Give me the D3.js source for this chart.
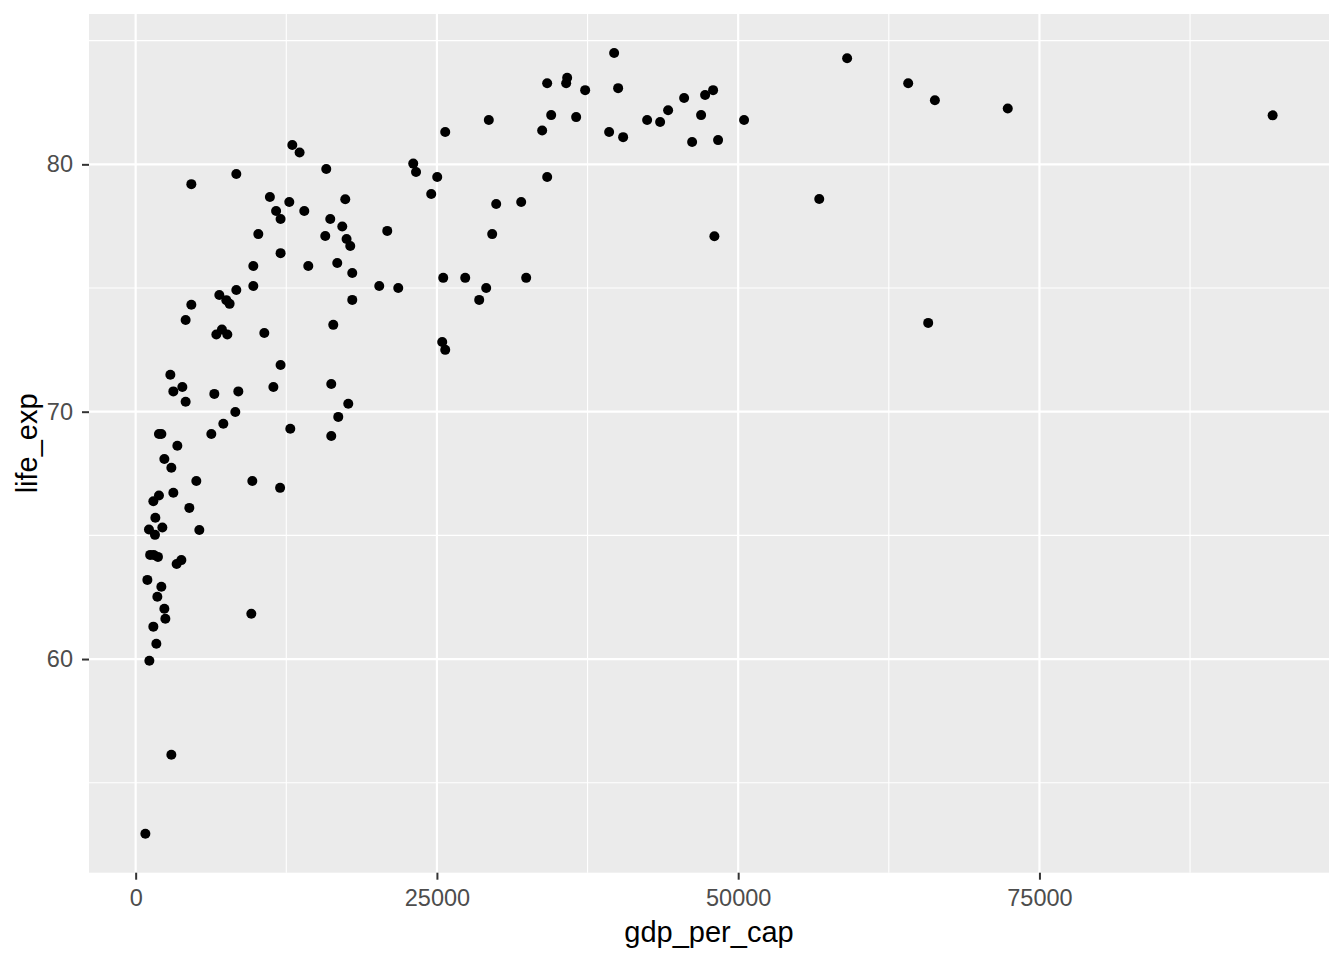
<!DOCTYPE html>
<html>
<head>
<meta charset="utf-8">
<script src="https://cdn.jsdelivr.net/npm/d3@7"></script>
<style>
  html, body { margin: 0; padding: 0; background: #ffffff; }
  svg { display: block; }
  text { font-family: "Liberation Sans", Arial, sans-serif; }
</style>
</head>
<body>
<svg id="chart" width="1344" height="960"></svg>
<script>
// ---- data ----
const gdpPerCap = [
  8353, 4620, 11140, 11654, 12027, 10178, 12027, 9763, 9763, 8353,
  6943, 7523, 7797, 4620, 4148, 7159, 6694, 7606, 10675, 12027,
  2879, 3874, 3127, 6528, 8519, 11430, 4148, 8270, 7275, 1933,
  2132, 6279, 3459, 2381, 2961, 5035, 9680, 11986, 1468, 1933,
  3127, 4454, 1634, 1103, 1601, 2215, 5284, 1203, 1493, 1850,
  3401, 3791, 971, 2132, 1800, 2381, 2464, 9597, 1468, 1717,
  1137, 2961, 805, 12998, 13603, 15818, 23034, 23267, 12749, 17394,
  13993, 16150, 17145, 20878, 15735, 17502, 17809, 14325, 16730, 17975,
  20214, 21790, 17975, 16399, 16233, 17643, 16813, 12832, 16233, 25689,
  33734, 25025, 34149, 24527, 29919, 31993, 29587, 25523, 27348, 32407,
  29089, 28509, 25440, 25689, 29305, 34149, 34481, 35808, 35725, 36555,
  37301, 39292, 39707, 40038, 40453, 42444, 43522, 44186, 45513, 46177,
  46923, 47255, 47918, 48333, 50490, 48026, 59041, 64109, 66324, 72371,
  94352, 56727, 65768
];
const lifeExp = [
  79.61, 79.20, 78.68, 78.11, 77.79, 77.18, 76.41, 75.89, 75.08, 74.92,
  74.72, 74.51, 74.36, 74.32, 73.71, 73.32, 73.12, 73.12, 73.18, 71.89,
  71.49, 71.00, 70.82, 70.72, 70.82, 71.00, 70.40, 69.99, 69.51, 69.10,
  69.10, 69.10, 68.62, 68.09, 67.73, 67.20, 67.20, 66.92, 66.38, 66.61,
  66.72, 66.11, 65.71, 65.24, 65.02, 65.32, 65.22, 64.21, 64.21, 64.13,
  63.84, 64.00, 63.20, 62.92, 62.52, 62.03, 61.63, 61.83, 61.31, 60.62,
  59.93, 56.13, 52.94, 80.78, 80.48, 79.81, 80.03, 79.69, 78.48, 78.59,
  78.11, 77.79, 77.49, 77.31, 77.10, 76.98, 76.70, 75.89, 76.01, 75.61,
  75.08, 75.00, 74.52, 73.51, 71.12, 70.32, 69.79, 69.31, 69.02, 81.31,
  81.37, 79.49, 79.49, 78.80, 78.40, 78.48, 77.18, 75.41, 75.41, 75.41,
  75.00, 74.52, 72.82, 72.50, 81.79, 83.28, 81.99, 83.50, 83.28, 81.91,
  83.00, 81.31, 84.50, 83.08, 81.10, 81.79, 81.71, 82.19, 82.68, 80.90,
  81.99, 82.80, 83.00, 80.98, 81.79, 77.09, 84.29, 83.28, 82.59, 82.26,
  81.98, 78.60, 73.59
];
const xTickValues = [0, 25000, 50000, 75000];
const xMinorValues = [12500, 37500, 62500, 87500];
const yTickValues = [60, 70, 80];
const yMinorValues = [55, 65, 75, 85];
const xTitle = "gdp_per_cap";
const yTitle = "life_exp";

// ---- layout ----
const panel = { left: 89, right: 1329, top: 14, bottom: 872.7 };
const svg = d3.select("#chart");

function expand(ext, mult) {
  const span = ext[1] - ext[0];
  return [ext[0] - span * mult, ext[1] + span * mult];
}

const x = d3.scaleLinear()
  .domain(expand(d3.extent(gdpPerCap), 0.05))
  .range([panel.left, panel.right]);
const y = d3.scaleLinear()
  .domain(expand(d3.extent(lifeExp), 0.05))
  .range([panel.bottom, panel.top]);

// panel background
svg.append("rect")
  .attr("x", panel.left).attr("y", panel.top)
  .attr("width", panel.right - panel.left)
  .attr("height", panel.bottom - panel.top)
  .attr("fill", "#EBEBEB");

const grid = svg.append("g");
grid.selectAll("line.xminor").data(xMinorValues).enter().append("line")
  .attr("x1", d => x(d)).attr("x2", d => x(d))
  .attr("y1", panel.top).attr("y2", panel.bottom)
  .attr("stroke", "#ffffff").attr("stroke-width", 1.1);
grid.selectAll("line.yminor").data(yMinorValues).enter().append("line")
  .attr("y1", d => y(d)).attr("y2", d => y(d))
  .attr("x1", panel.left).attr("x2", panel.right)
  .attr("stroke", "#ffffff").attr("stroke-width", 1.1);
grid.selectAll("line.xmajor").data(xTickValues).enter().append("line")
  .attr("x1", d => x(d)).attr("x2", d => x(d))
  .attr("y1", panel.top).attr("y2", panel.bottom)
  .attr("stroke", "#ffffff").attr("stroke-width", 2.2);
grid.selectAll("line.ymajor").data(yTickValues).enter().append("line")
  .attr("y1", d => y(d)).attr("y2", d => y(d))
  .attr("x1", panel.left).attr("x2", panel.right)
  .attr("stroke", "#ffffff").attr("stroke-width", 2.2);

// points
const pts = gdpPerCap.map((g, i) => ({ g, l: lifeExp[i] }));
svg.append("g").selectAll("circle").data(pts).enter().append("circle")
  .attr("cx", d => x(d.g))
  .attr("cy", d => y(d.l))
  .attr("r", 5)
  .attr("fill", "#000000");

// axes
const xAxis = d3.axisBottom(x).tickValues(xTickValues).tickFormat(d3.format("d"))
  .tickSizeInner(7).tickSizeOuter(0).tickPadding(9.3);
const gx = svg.append("g").attr("transform", `translate(0,${panel.bottom})`).call(xAxis);
gx.select(".domain").remove();
gx.selectAll(".tick line").attr("stroke", "#333333").attr("stroke-width", 2);
gx.selectAll(".tick text").attr("fill", "#4D4D4D").attr("font-size", "23.5px")
  .attr("font-family", "Liberation Sans, Arial, sans-serif");

const yAxis = d3.axisLeft(y).tickValues(yTickValues).tickFormat(d3.format("d"))
  .tickSizeInner(7).tickSizeOuter(0).tickPadding(9);
const gy = svg.append("g").attr("transform", `translate(${panel.left},0)`).call(yAxis);
gy.select(".domain").remove();
gy.selectAll(".tick line").attr("stroke", "#333333").attr("stroke-width", 2);
gy.selectAll(".tick text").attr("fill", "#4D4D4D").attr("font-size", "23.5px")
  .attr("font-family", "Liberation Sans, Arial, sans-serif");

// titles
svg.append("text")
  .attr("x", (panel.left + panel.right) / 2)
  .attr("y", 942)
  .attr("text-anchor", "middle")
  .attr("font-size", "29px")
  .attr("fill", "#000000")
  .text(xTitle);

svg.append("text")
  .attr("transform", `translate(37,${(panel.top + panel.bottom) / 2}) rotate(-90)`)
  .attr("text-anchor", "middle")
  .attr("font-size", "29px")
  .attr("fill", "#000000")
  .text(yTitle);
</script>
</body>
</html>
